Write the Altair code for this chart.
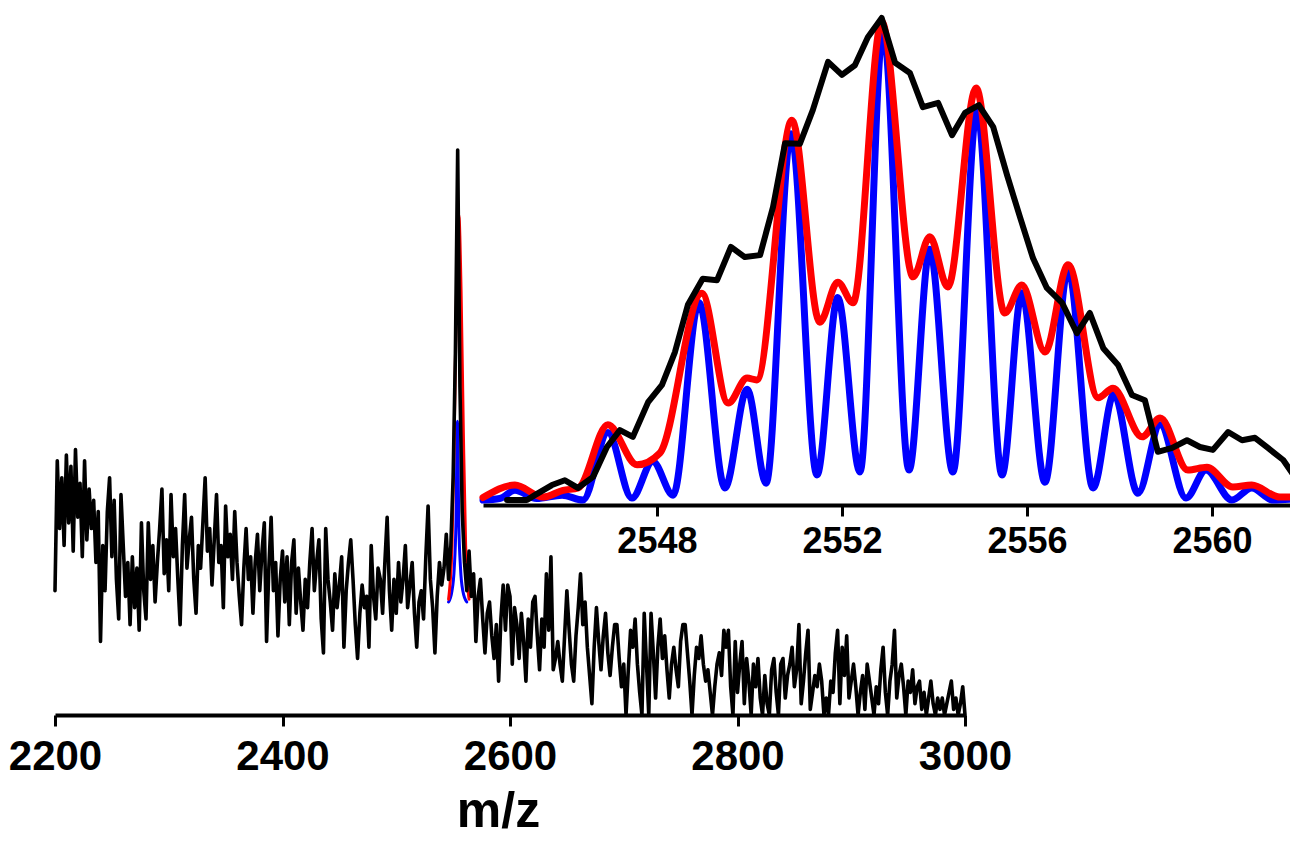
import altair as alt
import pandas as pd

# ---------------- main spectrum (m/z 2200-3000, step 2) ----------------
mz_main = list(range(2200, 3001, 2))
intensity_main = [
    22, 45, 33, 42, 30, 46, 34, 44, 29, 47, 35, 41, 28, 45, 31, 40, 33, 38, 27, 36,
    13, 30, 22, 36, 42, 28, 38, 24, 17, 39, 30, 21, 27, 16, 28, 19, 26, 15, 34, 22,
    17, 34, 24, 30, 20, 27, 33, 40, 25, 31, 22, 39, 28, 33, 24, 16, 30, 39, 26, 31,
    35, 24, 18, 30, 26, 34, 42, 29, 33, 23, 31, 39, 27, 30, 19, 37, 28, 32, 24, 36,
    27, 21, 16, 26, 33, 24, 28, 18, 27, 32, 22, 29, 34, 13, 26, 35, 22, 27, 14, 24,
    29, 20, 28, 16, 27, 31, 18, 26, 20, 15, 24, 19, 27, 33, 22, 27, 31, 17, 11, 33,
    24, 20, 15, 25, 19, 23, 28, 12, 22, 27, 31, 24, 16, 10, 18, 23, 19, 21, 12, 30,
    21, 17, 26, 24, 18, 27, 35, 22, 15, 24, 18, 27, 20, 24, 30, 19, 23, 27, 18, 12,
    20, 22, 17, 28, 37, 24, 19, 11, 21, 27, 23, 26, 32, 24, 30, 42, 64, 100, 58, 36,
    27, 22, 29, 21, 25, 13, 21, 24, 17, 11, 18, 20, 14, 10, 16, 6, 17, 23, 15, 23,
    21, 9, 19, 16, 10, 18, 13, 6, 17, 12, 20, 21, 14, 8, 17, 12, 25, 15, 28, 8,
    10, 13, 9, 6, 14, 22, 15, 9, 6, 14, 19, 25, 16, 20, 12, 7, 2, 12, 19, 13,
    8, 14, 18, 11, 7, 12, 16, 16, 10, 5, 9, 0, 8, 15, 12, 17, 9, 4, 0, 18,
    9, 0, 18, 11, 3, 12, 17, 10, 14, 8, 3, 9, 12, 8, 5, 13, 16, 16, 11, 6,
    0, 7, 12, 10, 14, 9, 6, 8, 4, 0, 5, 9, 11, 7, 15, 12, 15, 5, 0, 13,
    4, 9, 13, 2, 10, 6, 0, 9, 5, 10, 3, 0, 7, 2, 0, 8, 10, 4, 0, 9,
    10, 3, 7, 9, 12, 5, 8, 16, 2, 6, 11, 15, 1, 4, 7, 5, 9, 6, 0, 3,
    0, 6, 4, 11, 15, 2, 12, 7, 14, 3, 6, 9, 5, 0, 4, 7, 1, 9, 6, 3,
    0, 5, 2, 8, 12, 4, 0, 6, 9, 15, 3, 7, 9, 5, 0, 6, 4, 8, 2, 5,
    6, 1, 4, 0, 3, 6, 2, 0, 3, 1, 3, 0, 2, 4, 6, 1, 3, 0, 2, 5, 0,
]

# simulated envelopes as seen in the main panel
blue_main_mz = [2546, 2549, 2551, 2552.5, 2553.8, 2555, 2556.5, 2558.5, 2562]
blue_main_int = [20, 22, 26, 34, 52, 34, 26, 22, 20]
red_main_mz = [2546, 2549, 2551, 2553, 2555, 2557, 2559, 2561, 2564]
red_main_int = [20.5, 30, 50, 75, 88.5, 75, 50, 30, 20.5]

# ---------------- inset (zoom on the isotope pattern) ----------------
blue_in_mz = [2544.24, 2544.6, 2544.93, 2545.4, 2545.95, 2546.4, 2546.94, 2547.46, 2547.91, 2548.35,
              2548.91, 2549.47, 2549.95, 2550.36, 2550.90, 2551.46, 2551.91, 2552.39, 2552.89, 2553.45,
              2553.90, 2554.40, 2554.92, 2555.46, 2555.89, 2556.39, 2556.89, 2557.43, 2557.88, 2558.40,
              2558.88, 2559.44, 2559.87, 2560.43, 2560.86, 2561.32, 2561.86]
blue_in_int = [0, 0.3, 2, 0.3, 1, 0, 14, 0.4, 8, 1,
               41, 2.5, 23, 3.5, 76, 5.2, 42, 5.8, 97.5, 6.2,
               52, 5.8, 81, 5.2, 43, 3.7, 48, 2.5, 22, 1.4,
               15.6, 0.4, 6.2, 0, 2.5, 0, 0.3]

red_in_mz = [2544.24, 2544.93, 2545.54, 2545.97, 2546.3, 2546.94, 2547.57, 2548.06, 2548.97, 2549.54,
             2549.95, 2550.16, 2550.92, 2551.52, 2551.91, 2552.24, 2552.86, 2553.54, 2553.90, 2554.29,
             2554.90, 2555.52, 2555.89, 2556.39, 2556.89, 2557.54, 2557.86, 2558.49, 2558.88, 2559.48,
             2559.89, 2560.45, 2560.86, 2561.47, 2561.86]
red_in_int = [0.5, 3.1, 0.6, 2, 2.5, 15.6, 7.3, 9.7, 42.9, 20.1,
              25.3, 24.9, 78.8, 36.9, 45.2, 40.9, 99.2, 46.3, 54.6, 44.2,
              85.5, 38.8, 44.6, 30.7, 48.8, 21.2, 23.2, 13.1, 17.0, 6.2,
              6.8, 2.7, 3.1, 0.6, 0.6]

black_in_mz = [2544.76, 2545.19, 2545.36, 2545.73, 2546.01, 2546.29, 2546.62, 2546.92, 2547.20, 2547.48,
               2547.81, 2548.11, 2548.39, 2548.67, 2548.99, 2549.30, 2549.60, 2549.90, 2550.23, 2550.51,
               2550.77, 2551.09, 2551.37, 2551.70, 2552.00, 2552.28, 2552.56, 2552.86, 2553.15, 2553.47,
               2553.75, 2554.08, 2554.38, 2554.66, 2554.96, 2555.27, 2555.57, 2555.85, 2556.13, 2556.43,
               2556.76, 2557.08, 2557.36, 2557.65, 2557.97, 2558.27, 2558.55, 2558.83, 2559.14, 2559.46,
               2559.74, 2560.02, 2560.35, 2560.65, 2560.93, 2561.21, 2561.54, 2561.84]
black_in_int = [0, 0, 1, 3.1, 4.1, 2.5, 4.8, 11, 14.5, 13.1,
                20.3, 23.9, 30.7, 40.5, 45.9, 45.6, 52.5, 50.4, 50.8, 60.8,
                74, 73.9, 80.9, 90.9, 88.2, 90.2, 96, 100, 90.7, 88.6,
                81.5, 82.4, 75.7, 80.3, 81.9, 77.4, 67.4, 58.7, 50.2, 44,
                40.9, 34.6, 38.8, 31.5, 28, 21.8, 20.7, 10, 10.8, 12.4,
                11, 10.4, 14.1, 12.4, 12.9, 10.8, 8.3, 4.1]

main_ticks = [2200, 2400, 2600, 2800, 3000]
inset_ticks = [2548, 2552, 2556, 2560]

# canvas = page minus the 8px body margin on each side
W, H = 1282, 829
FONT = "Liberation Sans"

main_x_scale = alt.Scale(domain=[2200, 3000], range=[47, 957], nice=False, zero=False)
main_y_scale = alt.Scale(domain=[0, 100], range=[707, 142], nice=False, zero=False)
inset_x_scale = alt.Scale(domain=[2544.24, 2561.86], range=[475, 1290], nice=False, zero=False)
inset_y_scale = alt.Scale(domain=[0, 100], range=[492, 10], nice=False, zero=False)

main_axis = alt.Axis(
    values=main_ticks, format="d", orient="bottom", offset=707 - H, grid=False,
    domainColor="black", domainWidth=4, tickColor="black", tickWidth=3, tickSize=11,
    labelFont=FONT, labelFontSize=42, labelFontWeight="bold", labelColor="black",
    labelPadding=10, labelFlush=False, labelOverlap=False, labelBound=False,
    title="m/z", titleFont=FONT, titleFontSize=50, titleFontWeight="bold",
    titleColor="black", titleX=490, titleY=111, titleBaseline="alphabetic",
    titleAlign="center",
)
inset_axis = alt.Axis(
    values=inset_ticks, format="d", orient="bottom", offset=497 - H, grid=False,
    domainColor="black", domainWidth=4, tickColor="black", tickWidth=3, tickSize=11,
    labelFont=FONT, labelFontSize=36, labelFontWeight="bold", labelColor="black",
    labelPadding=8, labelFlush=False, labelOverlap=False, labelBound=False,
    title=None,
)


def line(mz, inten, color, width, xscale, yscale, xaxis, interp):
    df = pd.DataFrame({"mz": mz, "intensity": inten})
    return alt.Chart(df).mark_line(
        color=color, strokeWidth=width, interpolate=interp,
        strokeJoin="round", strokeCap="round", clip=False,
    ).encode(
        x=alt.X("mz:Q", scale=xscale, axis=xaxis),
        y=alt.Y("intensity:Q", scale=yscale, axis=None),
    )


main = alt.layer(
    line(blue_main_mz, blue_main_int, "#0000ff", 3, main_x_scale, main_y_scale, main_axis, "monotone"),
    line(red_main_mz, red_main_int, "#ff0000", 3, main_x_scale, main_y_scale, main_axis, "monotone"),
    line(mz_main, intensity_main, "#000000", 3.6, main_x_scale, main_y_scale, main_axis, "linear"),
)

inset = alt.layer(
    line(blue_in_mz, blue_in_int, "#0000ff", 7, inset_x_scale, inset_y_scale, inset_axis, "monotone"),
    line(red_in_mz, red_in_int, "#ff0000", 7, inset_x_scale, inset_y_scale, inset_axis, "monotone"),
    line(black_in_mz, black_in_int, "#000000", 6, inset_x_scale, inset_y_scale, inset_axis, "linear"),
)

chart = alt.layer(main, inset).resolve_scale(
    x="independent", y="independent"
).properties(
    width=W, height=H, padding=0,
    autosize=alt.AutoSizeParams(type="none"),
    background="white",
).configure_view(stroke=None)

chart.save("out.html", embed_options={"renderer": "svg", "actions": False})
